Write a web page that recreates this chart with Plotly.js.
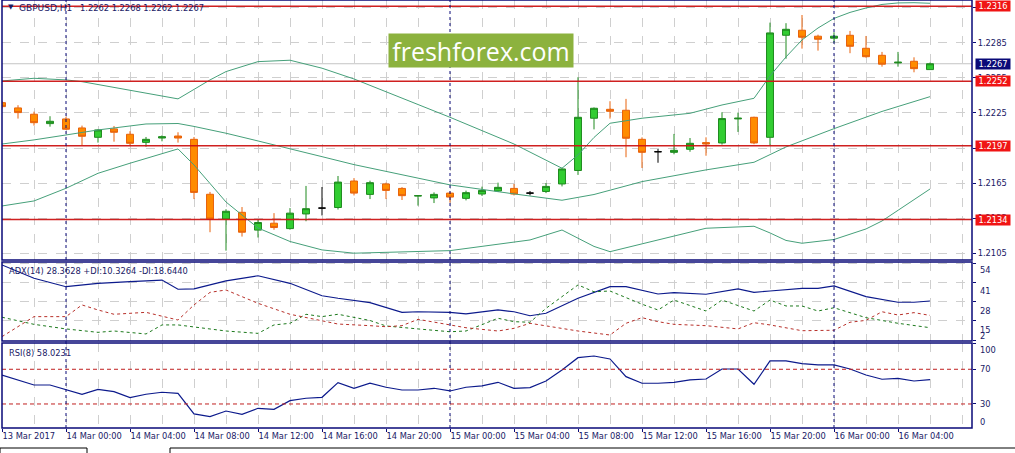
<!DOCTYPE html>
<html><head><meta charset="utf-8">
<script src="https://cdn.plot.ly/plotly-3.0.1.min.js"></script>
<style>html,body{margin:0;padding:0;background:#fff;}#chart{width:1015px;height:453px;}</style>
</head><body><div id="chart"></div>
<script>
// ---------- DATA ----------
const symbol = 'GBPUSD,H1';
const barIdx = [];
for (let i = 0; i < 59; i++) barIdx.push(i);
const openP  = [1.22338,1.22293,1.22239,1.22159,1.22199,1.22122,1.22042,1.22114,1.22068,1.21999,1.22036,1.22053,1.22025,1.21556,1.21345,1.21402,1.21250,1.21309,1.21263,1.21388,1.21438,1.21443,1.21669,1.21555,1.21644,1.21606,1.21541,1.21525,1.21566,1.21521,1.21558,1.21584,1.21606,1.21566,1.21580,1.21644,1.21759,1.22205,1.22281,1.22273,1.22025,1.21919,1.21914,1.21940,1.21997,1.21994,1.22199,1.22213,1.22042,1.22913,1.22956,1.22905,1.22888,1.22913,1.22802,1.22742,1.22677,1.22691,1.2262];
const highP  = [1.22352,1.22316,1.22261,1.22222,1.22218,1.22142,1.22111,1.22139,1.22094,1.22045,1.22059,1.22085,1.22045,1.21576,1.21428,1.21447,1.21338,1.21395,1.21438,1.21627,1.21618,1.21712,1.21694,1.21672,1.21655,1.21617,1.21549,1.21572,1.21579,1.21587,1.21621,1.21655,1.21644,1.21584,1.21652,1.21783,1.22555,1.22297,1.22350,1.22370,1.22042,1.21942,1.22071,1.22036,1.22042,1.22256,1.22253,1.22218,1.23021,1.23016,1.23086,1.22918,1.22939,1.22950,1.22907,1.22771,1.22771,1.22725,1.2268];
const lowP   = [1.22288,1.22202,1.22142,1.22133,1.22105,1.21974,1.21997,1.22005,1.21971,1.21962,1.22008,1.21997,1.21515,1.21232,1.21075,1.21195,1.21187,1.21253,1.21254,1.21326,1.21375,1.21426,1.21546,1.21515,1.21515,1.21507,1.21459,1.21481,1.21484,1.21504,1.21541,1.21575,1.21546,1.21546,1.21566,1.21623,1.21721,1.22110,1.22202,1.21872,1.21780,1.21825,1.21897,1.21919,1.21885,1.21980,1.22088,1.21983,1.21971,1.22713,1.22799,1.22782,1.22850,1.22760,1.22722,1.22645,1.22645,1.22597,1.2262];
const closeP = [1.22304,1.22253,1.22167,1.22179,1.22111,1.22051,1.22105,1.22085,1.21991,1.22025,1.22047,1.22036,1.21572,1.21345,1.21411,1.21232,1.21315,1.21272,1.21395,1.21433,1.21438,1.21660,1.21566,1.21655,1.21589,1.21544,1.21544,1.21555,1.21532,1.21570,1.21589,1.21615,1.21558,1.21566,1.21623,1.21772,1.22213,1.22290,1.22264,1.22034,1.21914,1.21919,1.21931,1.21991,1.21985,1.22202,1.22205,1.21994,1.22933,1.22964,1.22896,1.22879,1.22905,1.22819,1.22730,1.22666,1.22683,1.22628,1.2267];

// Bollinger bands (read at selected bars)
const bbUpIdx = [0,2,4,5,11,12,13,14,16,18,20,22,25,28,32,35,36,37,38,40,43,45,47,48,49,50,51,52,53,54,55,56,57,58];
const bbUp    = [1.22523,1.22546,1.22532,1.22517,1.22370,1.22454,1.22532,1.22603,1.22688,1.22700,1.22632,1.22540,1.22378,1.22213,1.21985,1.21778,1.21892,1.22041,1.22162,1.22205,1.22247,1.22318,1.22375,1.22566,1.22728,1.22873,1.22975,1.23057,1.23108,1.23146,1.23176,1.23189,1.23191,1.23186];
const bbMidIdx = [0,2,4,6,9,11,12,14,16,18,20,22,25,28,32,35,37,40,44,47,49,52,55,58];
const bbMid    = [1.21985,1.22020,1.22062,1.22105,1.22156,1.22160,1.22135,1.22077,1.22011,1.21947,1.21877,1.21809,1.21721,1.21636,1.21559,1.21505,1.21554,1.21664,1.21764,1.21829,1.21960,1.22116,1.22263,1.22389];
const bbLowIdx = [0,2,4,6,8,11,12,14,16,18,20,22,25,28,33,35,37,38,41,44,47,48,49,50,52,54,55,58];
const bbLow    = [1.21456,1.21499,1.21607,1.21735,1.21821,1.21943,1.21806,1.21490,1.21268,1.21153,1.21081,1.21053,1.21064,1.21075,1.21166,1.21251,1.21111,1.21066,1.21166,1.21266,1.21283,1.21226,1.21162,1.21138,1.21170,1.21260,1.21328,1.21601];

// ADX(14)
const adxIdx = [0,2,4,6,8,10,11,12,14,16,18,20,21,23,25,26,28,29,31,32,33,34,36,38,39,41,42,44,46,47,48,50,51,52,54,56,57,58];
const adxVal = [52.7,43.7,38.0,40.3,41.4,42.5,36.3,36.5,41.9,45.4,40.3,31.9,30.2,27.3,20.7,21.1,20.7,19.6,22.3,21.1,18.4,20.1,30.2,38.0,38.0,33.1,34.0,32.9,36.5,34.2,35.1,36.9,36.9,38.5,31.3,27.5,27.5,28.36];
const pdiIdx = [0,2,4,6,7,9,10,11,14,16,17,18,19,20,21,23,24,25,26,28,29,31,32,33,34,36,37,38,40,41,42,44,45,47,48,49,50,51,52,54,56,58];
const pdiVal = [17.4,12.6,9.5,7.2,8.1,6.1,12.2,12.2,8.1,6.5,12.2,13.3,19.4,17.8,19.4,15.2,11.5,10.3,9.5,7.6,8.1,16.7,14.4,14.0,23.4,39.2,34.6,35.1,26.2,22.3,29.0,21.6,29.0,21.6,29.0,25.0,25.0,21.6,23.8,17.1,13.3,10.33];
const mdiIdx = [0,2,4,5,6,7,9,11,12,13,14,16,18,20,21,23,24,25,26,28,29,31,32,33,34,36,38,39,40,41,42,44,46,47,48,50,52,53,54,55,56,57,58];
const mdiVal = [4.3,17.8,17.8,25.7,22.3,19.4,20.7,15.5,25.7,34.2,35.8,26.8,19.4,15.1,12.8,11.7,11.0,11.7,16.0,12.2,10.3,8.1,9.9,13.3,11.5,8.1,5.4,13.3,17.1,14.4,12.6,11.7,9.5,13.7,12.2,8.3,8.6,14.0,15.3,21.1,18.9,20.5,18.64];
const adxHeader = 'ADX(14) 28.3628 +DI:10.3264 -DI:18.6440';

// RSI(8)
const rsiIdx = [0,2,3,4,5,6,7,8,9,10,11,12,13,14,15,16,17,18,19,20,21,22,23,24,25,26,27,28,29,30,31,32,33,34,35,36,37,38,39,40,41,42,43,44,45,46,47,48,49,50,51,52,53,54,55,56,57,58];
const rsiVal = [63.4,51.9,51.9,46.1,41.2,46.9,44.2,37.3,41.2,43.5,42.3,18.5,15.4,21.9,18.1,25.0,23.9,33.8,36.6,37.7,54.6,48.1,53.9,49.3,46.1,46.1,48.1,45.0,49.3,50.8,55.0,48.1,48.8,56.5,69.2,83.4,85.3,81.9,61.5,53.9,53.9,55.0,57.7,58.8,70.3,70.3,52.7,79.6,79.6,76.5,75.0,75.0,70.3,63.4,58.5,59.6,56.5,58.02];
const rsiHeader = 'RSI(8) 58.0231';
const rsiLevels = [70, 30];

// Axes / labels
const timeTickIdx = [0,4,8,12,16,20,24,28,32,36,40,44,48,52,56];
const timeTickLabels = ['13 Mar 2017','14 Mar 00:00','14 Mar 04:00','14 Mar 08:00','14 Mar 12:00','14 Mar 16:00','14 Mar 20:00','15 Mar 00:00','15 Mar 04:00','15 Mar 08:00','15 Mar 12:00','15 Mar 16:00','15 Mar 20:00','16 Mar 00:00','16 Mar 04:00'];
const daySeparatorIdx = [4, 28, 52];
const priceTicks = [1.2105,1.2135,1.2165,1.2195,1.2225,1.2255,1.2285,1.2315];
const adxTicks = [54, 41, 28, 15, 2];
const rsiTicks = [100, 70, 30, 0];
const levelLines = [1.2316, 1.2252, 1.2197, 1.2134];
const bidPrice = 1.2267;
const watermark = 'freshforex.com';

// ---------- BUILD ----------
const NAVY = '#0a0a78';
const TXT = '#1a1a66';
const FONT = 'DejaVu Sans';
const FS = 8.3;

function pick(filter) {
  const r = {x: [], o: [], h: [], l: [], c: []};
  barIdx.forEach((x, i) => {
    if (filter(openP[i], closeP[i])) {
      r.x.push(x); r.o.push(openP[i]); r.h.push(highP[i]); r.l.push(lowP[i]); r.c.push(closeP[i]);
    }
  });
  return r;
}
const bull = pick((o, c) => c > o);
const bear = pick((o, c) => c < o);
const doji = pick((o, c) => c === o);

function candle(d, incLine, incFill, decLine, decFill) {
  return {type: 'candlestick', x: d.x, open: d.o, high: d.h, low: d.l, close: d.c,
    xaxis: 'x', yaxis: 'y', whiskerwidth: 0, hoverinfo: 'skip', showlegend: false,
    increasing: {line: {color: incLine, width: 1}, fillcolor: incFill},
    decreasing: {line: {color: decLine, width: 1}, fillcolor: decFill}};
}
const bbColor = '#46a07a';
const traces = [
  {type: 'scatter', mode: 'lines', x: bbUpIdx, y: bbUp, yaxis: 'y', line: {color: bbColor, width: 1}, hoverinfo: 'skip'},
  {type: 'scatter', mode: 'lines', x: bbMidIdx, y: bbMid, yaxis: 'y', line: {color: bbColor, width: 1}, hoverinfo: 'skip'},
  {type: 'scatter', mode: 'lines', x: bbLowIdx, y: bbLow, yaxis: 'y', line: {color: bbColor, width: 1}, hoverinfo: 'skip'},
  candle(bull, '#1f8a1f', '#32cd32', '#1f8a1f', '#32cd32'),
  candle(bear, '#e8620c', '#ff8c00', '#e8620c', '#ff8c00'),
  candle(doji, '#000000', '#000000', '#000000', '#000000'),
  {type: 'scatter', mode: 'lines', x: adxIdx, y: adxVal, yaxis: 'y2', line: {color: '#0c1a8c', width: 1.2}, hoverinfo: 'skip'},
  {type: 'scatter', mode: 'lines', x: pdiIdx, y: pdiVal, yaxis: 'y2', line: {color: '#1d7a1d', width: 1, dash: '3px,3px'}, hoverinfo: 'skip'},
  {type: 'scatter', mode: 'lines', x: mdiIdx, y: mdiVal, yaxis: 'y2', line: {color: '#b8302a', width: 1, dash: '3px,3px'}, hoverinfo: 'skip'},
  {type: 'scatter', mode: 'lines', x: rsiIdx, y: rsiVal, yaxis: 'y3', line: {color: '#0c1a8c', width: 1.2}, hoverinfo: 'skip'}
];

const PH = 428; // plot area height in px
const dom = (top, bot) => [(PH - bot) / PH, (PH - top) / PH];
const pxX = px => (px - 2) / 970;
const pxY = py => (PH - py) / PH;
const RSI_MIN = 2.3, RSI_MAX = 100.3;

const shapes = [];
shapes.push({type: 'line', xref: 'paper', x0: 0, x1: 1, yref: 'y', y0: bidPrice, y1: bidPrice, line: {color: '#c4c4c4', width: 1}, layer: 'below'});
levelLines.forEach(v => shapes.push({type: 'line', xref: 'paper', x0: 0, x1: 1, yref: 'y', y0: v, y1: v, line: {color: 'rgba(204,20,20,0.95)', width: 1.5}}));
rsiLevels.forEach(v => shapes.push({type: 'line', xref: 'paper', x0: 0, x1: 1, yref: 'y3', y0: v, y1: v, line: {color: '#c02020', width: 1, dash: '4px,3px'}}));
daySeparatorIdx.forEach(v => shapes.push({type: 'line', xref: 'x', x0: v, x1: v, yref: 'paper', y0: 0, y1: 1, line: {color: NAVY, width: 1, dash: '3px,3px'}}));
['y', 'y2', 'y3'].forEach(a => shapes.push({type: 'rect', xref: 'paper', x0: 0, x1: 1, yref: a + ' domain', y0: 0, y1: 1, line: {color: NAVY, width: 1.5}}));
shapes.push({type: 'rect', xref: 'paper', yref: 'paper', x0: pxX(0), x1: pxX(87), y0: pxY(448), y1: pxY(460), line: {color: '#000', width: 1}});
shapes.push({type: 'rect', xref: 'paper', yref: 'paper', x0: pxX(170), x1: pxX(1016), y0: pxY(448), y1: pxY(460), line: {color: '#000', width: 1}});

const annotations = [];
const txtFont = {family: FONT, size: FS, color: TXT};
const last = barIdx.length - 1;
annotations.push({xref: 'paper', yref: 'paper', x: pxX(6), y: pxY(7), xanchor: 'left', yanchor: 'middle', showarrow: false,
  text: '\u25BC', font: {family: FONT, size: 7, color: TXT}});
annotations.push({xref: 'paper', yref: 'paper', x: pxX(16.5), y: pxY(7.5), xanchor: 'left', yanchor: 'middle', showarrow: false,
  text: symbol, font: {family: FONT, size: 9, color: TXT}});
annotations.push({xref: 'paper', yref: 'paper', x: pxX(77.5), y: pxY(7.5), xanchor: 'left', yanchor: 'middle', showarrow: false,
  text: [openP[last], highP[last], lowP[last], closeP[last]].map(v => v.toFixed(4)).join(' '), font: {family: FONT, size: 8.3, color: TXT}});
annotations.push({xref: 'paper', yref: 'paper', x: pxX(6.5), y: pxY(271), xanchor: 'left', yanchor: 'middle', showarrow: false, text: adxHeader, font: txtFont});
annotations.push({xref: 'paper', yref: 'paper', x: pxX(6.5), y: pxY(352.5), xanchor: 'left', yanchor: 'middle', showarrow: false, text: rsiHeader, font: txtFont});
adxTicks.forEach(v => annotations.push({xref: 'paper', yref: 'y2', x: pxX(978), y: v, xanchor: 'left', yanchor: 'middle', showarrow: false,
  yshift: v === 2 ? 4 : (v === 54 ? -7 : -9), text: String(v), font: txtFont}));
rsiTicks.forEach(v => {
  const yv = Math.min(Math.max(v, RSI_MIN), RSI_MAX);
  const ys = v === 100 ? -7 : (v === 0 ? 6 : 0);
  annotations.push({xref: 'paper', yref: 'y3', x: pxX(978), y: yv, xanchor: 'left', yanchor: 'middle', showarrow: false,
    yshift: ys, text: String(v), font: txtFont});
});
levelLines.forEach(v => annotations.push({xref: 'paper', yref: 'y', x: pxX(975), y: v, xanchor: 'left', yanchor: 'middle', showarrow: false,
  text: v.toFixed(4), font: {family: FONT, size: FS, color: '#ffffff'}, bgcolor: '#f01414', width: 34, height: 10, borderpad: 0, align: 'center'}));
annotations.push({xref: 'paper', yref: 'y', x: pxX(975), y: bidPrice, xanchor: 'left', yanchor: 'middle', showarrow: false,
  text: bidPrice.toFixed(4), font: {family: FONT, size: FS, color: '#ffffff'}, bgcolor: '#0a0a78', width: 34, height: 10, borderpad: 0, align: 'center'});
annotations.push({xref: 'paper', yref: 'paper', x: pxX(480.5), y: pxY(50.5), xanchor: 'center', yanchor: 'middle', showarrow: false,
  text: watermark, font: {family: 'Open Sans', size: 25, color: '#ffffff'}, bgcolor: '#8cb23e', width: 184, height: 33, borderpad: 0});

const gridC = '#cfcfcf';
const layout = {
  width: 1015, height: 453,
  margin: {l: 2, r: 43, t: 0, b: 25, pad: 0},
  paper_bgcolor: '#ffffff', plot_bgcolor: '#ffffff',
  showlegend: false, boxgap: 0.38, boxmode: 'overlay',
  font: {family: FONT, size: FS, color: TXT},
  xaxis: {range: [0, 60.625], anchor: 'y3', tickmode: 'array', tickvals: timeTickIdx, ticktext: timeTickLabels,
    tickangle: 0, ticks: 'outside', ticklen: 3, tickcolor: NAVY, ticklabelposition: 'outside right',
    tickfont: {family: FONT, size: FS, color: TXT},
    showgrid: true, gridcolor: gridC, griddash: 'dash', gridwidth: 1,
    minor: {tickmode: 'linear', tick0: 0, dtick: 2, showgrid: true, gridcolor: gridC, griddash: 'dash', gridwidth: 1, ticks: ''},
    zeroline: false, showline: false, rangeslider: {visible: false}, fixedrange: true},
  yaxis: {domain: dom(0, 260), range: [1.20995, 1.23214], side: 'right', tickmode: 'array', tickvals: priceTicks,
    ticktext: priceTicks.map(v => v.toFixed(4)), ticks: 'outside', ticklen: 3, tickcolor: NAVY,
    tickfont: {family: FONT, size: FS, color: TXT}, showgrid: true, gridcolor: gridC, griddash: 'dash',
    zeroline: false, showline: false, fixedrange: true},
  yaxis2: {domain: dom(262, 341), range: [1.35, 54.69], side: 'right', anchor: 'x', tickmode: 'array', tickvals: adxTicks,
    showticklabels: false, ticks: 'outside', ticklen: 3, tickcolor: NAVY, showgrid: true, gridcolor: gridC, griddash: 'dash',
    zeroline: false, showline: false, fixedrange: true},
  yaxis3: {domain: dom(343, 428), range: [RSI_MIN, RSI_MAX], side: 'right', anchor: 'x', tickmode: 'array', tickvals: rsiTicks,
    showticklabels: false, ticks: 'outside', ticklen: 3, tickcolor: NAVY, showgrid: false,
    zeroline: false, showline: false, fixedrange: true},
  shapes: shapes,
  annotations: annotations
};
Plotly.newPlot('chart', traces, layout, {staticPlot: true, displayModeBar: false});
</script></body></html>
